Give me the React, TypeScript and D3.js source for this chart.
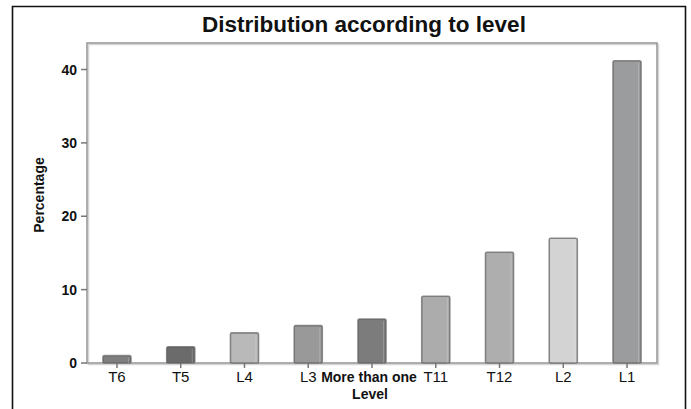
import React from "react";
import * as d3 from "d3";

const categories = ["T6", "T5", "L4", "L3", "More than one", "T11", "T12", "L2", "L1"];
const values = [1.0, 2.2, 4.1, 5.1, 6.0, 9.1, 15.1, 17.0, 41.2];
const barColors = ["#7f7f7f", "#6b6b6b", "#b9b9b9", "#999999", "#7c7c7c", "#acacac", "#aeaeae", "#d3d3d3", "#9b9c9e"];
const yTicks = [0, 10, 20, 30, 40];

const W = 691;
const H = 409;
const plotLeft = 87;
const plotRight = 657;
const plotTop = 43;
const plotBottom = 363;

export default function App() {
  const x = d3
    .scaleBand<string>()
    .domain(categories)
    .range([plotLeft, plotRight])
    .paddingInner(0.56)
    .paddingOuter(0.25);
  const y = d3.scaleLinear().domain([0, 40]).range([plotBottom, 69.5]);
  const font = "'Liberation Sans', Arial, sans-serif";
  const bw = x.bandwidth();

  return (
    <svg
      width={W}
      height={H}
      style={{ position: "absolute", left: 0, top: 0, background: "#fff" }}
      fontFamily={font}
    >
      {/* outer frame */}
      <path d={`M12.5,${H + 2} V6.5 H685.5 V${H + 2}`} fill="none" stroke="#111" strokeWidth={1.6} />
      {/* title */}
      <text x={364} y={31.5} textAnchor="middle" fontSize={22.5} fontWeight="bold" fill="#111">
        Distribution according to level
      </text>
      {/* plot frame shadow + frame */}
      <rect x={plotLeft + 1.5} y={plotTop + 1.5} width={plotRight - plotLeft} height={plotBottom - plotTop} fill="none" stroke="#d6d6d6" strokeWidth={1.5} />
      <rect x={plotLeft} y={plotTop} width={plotRight - plotLeft} height={plotBottom - plotTop} fill="none" stroke="#9a9a9a" strokeWidth={1.6} />
      {/* bars */}
      {categories.map((c, i) => {
        const x0 = x(c)!;
        const y0 = y(values[i]);
        return (
          <g key={c}>
            <rect
              x={x0}
              y={y0}
              width={bw}
              height={y(0) - y0}
              rx={1.5}
              fill={barColors[i]}
              stroke="#5f5f5f"
              strokeOpacity={0.7}
              strokeWidth={1.6}
            />
            <line x1={x0 + bw - 2.5} x2={x0 + bw - 2.5} y1={y0 + 2} y2={y(0)} stroke="#ffffff" strokeOpacity={0.2} strokeWidth={1} />
          </g>
        );
      })}
      {/* y ticks */}
      {yTicks.map((t) => (
        <g key={t}>
          <line x1={plotLeft - 6} x2={plotLeft} y1={y(t)} y2={y(t)} stroke="#777" strokeWidth={1.5} />
          <text x={plotLeft - 10} y={y(t) + 5} textAnchor="end" fontSize={14} fontWeight="bold" fill="#111">
            {t}
          </text>
        </g>
      ))}
      {/* x ticks */}
      {categories.map((c) => {
        const cx = x(c)! + bw / 2;
        const isMulti = c === "More than one";
        return (
          <g key={c}>
            <line x1={cx} x2={cx} y1={plotBottom} y2={plotBottom + 5} stroke="#777" strokeWidth={1.5} />
            <text x={isMulti ? cx - 3 : cx} y={plotBottom + 19} textAnchor="middle" fontSize={isMulti ? 14 : 15} fontWeight={isMulti ? "bold" : "normal"} fill="#111">
              {c}
            </text>
          </g>
        );
      })}
      {/* x axis title */}
      <text x={x("More than one")! + bw / 2 - 2} y={plotBottom + 36} textAnchor="middle" fontSize={14} fontWeight="bold" fill="#111">
        Level
      </text>
      {/* y axis title */}
      <text transform={`translate(44,${195}) rotate(-90)`} textAnchor="middle" fontSize={14} fontWeight="bold" fill="#111">
        Percentage
      </text>
    </svg>
  );
}
